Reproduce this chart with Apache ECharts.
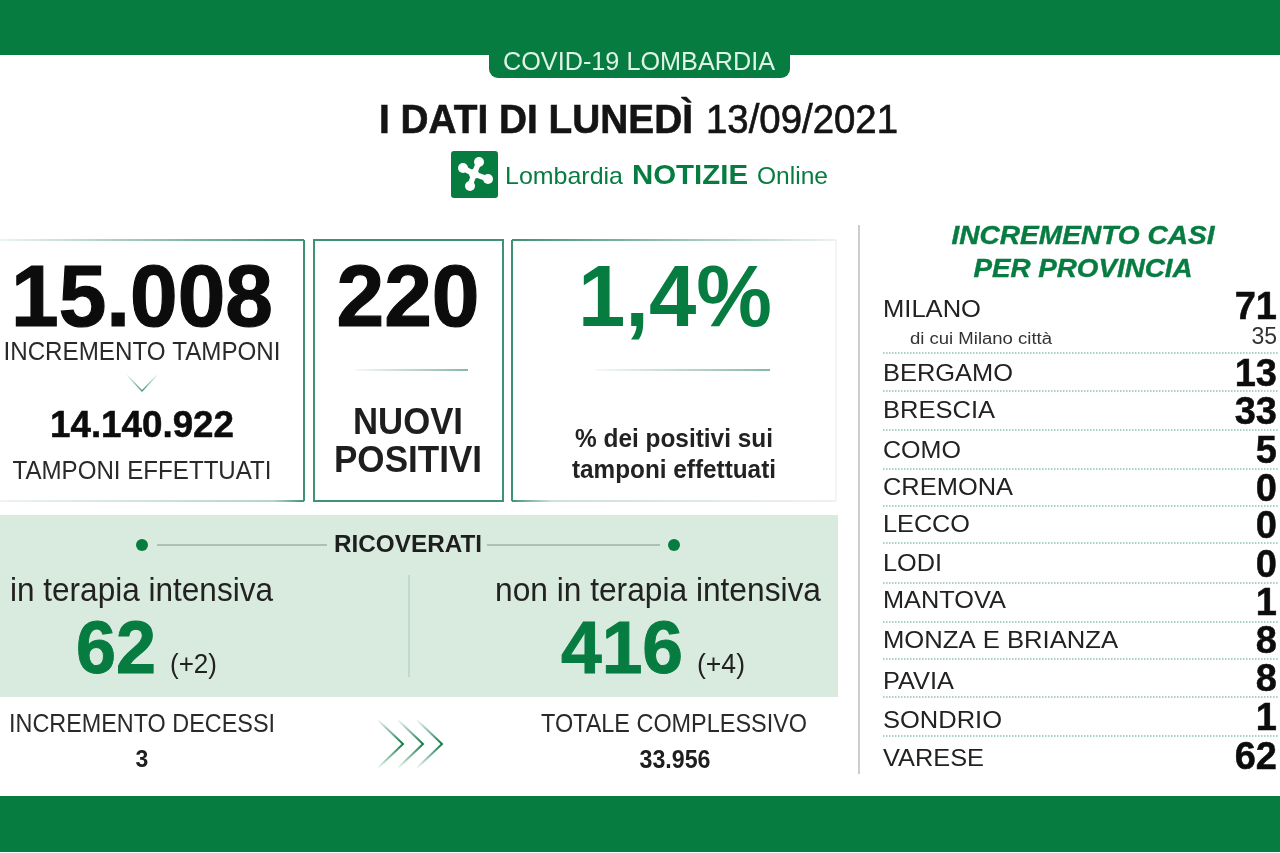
<!DOCTYPE html>
<html><head><meta charset="utf-8">
<style>html,body{margin:0;padding:0;background:#fff}#c{width:1280px;height:853px}</style>
<script src="https://cdn.jsdelivr.net/npm/echarts@6/dist/echarts.min.js"></script>
</head><body><div id="c"></div>
<script>
// ---- data ----
const bannerTitle = 'COVID-19 LOMBARDIA';
const headlineBold = 'I DATI DI LUNEDÌ';
const headlineDate = '13/09/2021';
const swabIncrease = '15.008';
const swabTotal = '14.140.922';
const newPositives = '220';
const positiveRate = '1,4%';
const icuCount = '62';
const icuDelta = '(+2)';
const wardCount = '416';
const wardDelta = '(+4)';
const deathsIncrease = '3';
const deathsTotal = '33.956';
const provinces = ['MILANO','BERGAMO','BRESCIA','COMO','CREMONA','LECCO','LODI','MANTOVA','MONZA E BRIANZA','PAVIA','SONDRIO','VARESE'];
const provinceValues = [71,13,33,5,0,0,0,1,8,8,1,62];
const milanoCityLabel = 'di cui Milano città';
const milanoCityValue = 35;

// ---- layout ----
const FONT = '"Liberation Sans", Arial, sans-serif';
const GREEN = '#067c41', BLACK = '#141414';
const provNameY = [309,373,410,450,487,524,563,600,640,681,720,758];
const provNameW = [98,130,112,78,130,87,59,123,235,71,119,101];
const provValY = [306,373,411,450,488,525,564,602,640,678,717,756];
const provLineY = [353,391,430,469,506,543,583,622,659,697,736];

const ctx = document.createElement('canvas').getContext('2d');
const els = [];
function txt(s, x, y, size, o) {
  o = o || {};
  const font = (o.italic ? 'italic ' : '') + (o.bold ? 'bold ' : '') + size + 'px ' + FONT;
  ctx.font = font;
  const sx = o.w ? o.w / ctx.measureText(s).width : 1;
  const fill = o.color || BLACK;
  const style = {text:s, font, fill, align:o.align||'left', verticalAlign:'middle'};
  if (o.heavy) { style.stroke = fill; style.lineWidth = o.heavy; }
  els.push({type:'text', x, y:y + size*0.07, scaleX:sx, silent:true, z:5, style});
}
function rect(x,y,w,h,fill,r){ els.push({type:'rect',shape:{x,y,width:w,height:h,r:r||0},style:{fill},silent:true,z:1}); }
function grad(x,y,x2,y2,stops){ return {type:'linear',x,y,x2,y2,global:true,colorStops:stops.map(s=>({offset:s[0],color:s[1]}))}; }
function line(x1,y1,x2,y2,stroke,w,dash){ els.push({type:'line',shape:{x1,y1,x2,y2},style:{stroke,lineWidth:w||1,lineDash:dash||null},silent:true,z:2}); }
function poly(pts,stroke,w){ els.push({type:'polyline',shape:{points:pts},style:{stroke,lineWidth:w||1,fill:'none'},silent:true,z:2}); }
function dot(cx,cy,r,fill){ els.push({type:'circle',shape:{cx,cy,r},style:{fill},silent:true,z:3}); }

// bands
rect(0,0,1280,55,GREEN);
rect(0,796,1280,56,GREEN);
rect(489,40,301,38,GREEN,[0,0,9,9]);
txt(bannerTitle,639,61,25,{align:'center',w:272,color:'#dff3e6'});

// headline
txt(headlineBold,379,119,40,{bold:true,w:314,heavy:0.6});
txt(headlineDate,706,119,40,{w:192,heavy:0.7});

// logo
rect(451,151,47,47,GREEN,3);
[[463,168],[479,162],[488,179],[470,186]].forEach(p=>{
  line(474,174,p[0],p[1],'#fff',5.5);
  dot(p[0],p[1],5,'#fff');
});
dot(474,174,5,'#fff');
txt('Lombardia',505,176,24,{color:GREEN,w:118});
txt('NOTIZIE',632,174,28,{color:GREEN,bold:true,w:116});
txt('Online',757,176,23,{color:GREEN,w:71});

// boxes
const BOX = '#3f9372';
line(0,240,304,240,grad(0,0,304,0,[[0,'#eef4f0'],[1,BOX]]),2);
line(304,240,304,501,BOX,2);
line(0,501,304,501,grad(0,0,304,0,[[0,'#eef4f0'],[0.9,'#b5d5c5'],[1,BOX]]),2);
els.push({type:'rect',shape:{x:314,y:240,width:189,height:261},style:{fill:null,stroke:BOX,lineWidth:2},silent:true,z:2});
line(512,240,512,501,BOX,2);
line(512,240,836,240,grad(512,0,836,0,[[0,BOX],[1,'#eef2ef']]),2);
line(512,501,836,501,grad(512,0,836,0,[[0,BOX],[0.12,'#cfe0d6'],[1,'#eef2ef']]),2);
line(836,240,836,501,'#eef2ef',1.5);

txt(swabIncrease,142,296,87,{bold:true,align:'center',w:262,color:'#0c0c0c',heavy:1.2});
txt('INCREMENTO TAMPONI',142,351,26,{align:'center',w:277,color:'#2a2a2a'});
poly([[127,375],[142,391],[157,375]],grad(0,375,0,391,[[0,'#f4f9f6'],[1,'#3d9470']]),1.2);
txt(swabTotal,142,425,36,{bold:true,align:'center',w:184,color:'#0c0c0c',heavy:0.5});
txt('TAMPONI EFFETTUATI',142,470,25,{align:'center',w:259,color:'#2a2a2a'});

txt(newPositives,408,296,87,{bold:true,align:'center',w:143,color:'#0c0c0c',heavy:1.2});
line(355,370,468,370,grad(355,0,468,0,[[0,'#f2f7f4'],[1,'#5f9f84']]),1.5);
txt('NUOVI',408,422,36,{bold:true,align:'center',w:110,color:'#1e1e1e'});
txt('POSITIVI',408,460,36,{bold:true,align:'center',w:148,color:'#1e1e1e'});

txt(positiveRate,675,296,87,{bold:true,align:'center',w:194,color:GREEN});
line(595,370,770,370,grad(595,0,770,0,[[0,'#f2f7f4'],[1,'#5f9f84']]),1.5);
txt('% dei positivi sui',674,438,25,{bold:true,align:'center',w:198,color:'#222'});
txt('tamponi effettuati',674,469,25,{bold:true,align:'center',w:204,color:'#222'});

// hospital panel
rect(0,515,838,182,'#d9ebdf');
dot(142,545,6,GREEN); dot(674,545,6,GREEN);
line(157,545,327,545,'#9cb3a5',1.5);
line(487,545,660,545,'#9cb3a5',1.5);
txt('RICOVERATI',408,544,24,{bold:true,align:'center',w:148,color:'#1e1e1e'});
line(409,575,409,677,'#a9c6b5',1);
txt('in terapia intensiva',10,590,33,{w:263,color:'#222'});
txt('non in terapia intensiva',495,590,33,{w:326,color:'#222'});
txt(icuCount,76,647,74,{bold:true,w:80,color:GREEN,heavy:1});
txt(icuDelta,170,664,27,{w:47,color:'#222'});
txt(wardCount,561,647,74,{bold:true,w:122,color:GREEN,heavy:1});
txt(wardDelta,697,664,27,{w:48,color:'#222'});

// deaths
txt('INCREMENTO DECESSI',9,723,25,{w:266,color:'#2a2a2a'});
txt(deathsIncrease,142,759,23,{bold:true,align:'center',color:'#1e1e1e'});
txt('TOTALE COMPLESSIVO',541,723,25,{w:266,color:'#2a2a2a'});
txt(deathsTotal,675,759,25,{bold:true,align:'center',w:71,color:'#1e1e1e'});
[403,423,442].forEach(t=>{
  poly([[t-25,720],[t,744],[t-25,768]],grad(0,720,0,768,[[0,'#f4f9f6'],[0.5,'#0e7a48'],[1,'#f4f9f6']]),2);
});

// provinces
line(859,225,859,774,'#bdbdbd',1.5);
txt('INCREMENTO CASI',1083,235,26,{bold:true,italic:true,align:'center',w:263,color:GREEN,heavy:0.4});
txt('PER PROVINCIA',1083,268,26,{bold:true,italic:true,align:'center',w:219,color:GREEN,heavy:0.4});
provinces.forEach((name,i)=>{
  txt(name,883,provNameY[i],24,{w:provNameW[i],color:'#222'});
  txt(String(provinceValues[i]),1277,provValY[i],38,{bold:true,align:'right',color:'#0c0c0c',heavy:0.5});
});
txt(milanoCityLabel,910,338,16,{w:142,color:'#333'});
txt(String(milanoCityValue),1277,336,23,{align:'right',color:'#333'});
provLineY.forEach(y=>line(883,y,1279,y,'#8cc3a6',1.5,[1.5,1.5]));

const chart = echarts.init(document.getElementById('c'),null,{renderer:'canvas'});
chart.setOption({animation:false,backgroundColor:'#fff',graphic:{elements:els}});
</script>
</body></html>
